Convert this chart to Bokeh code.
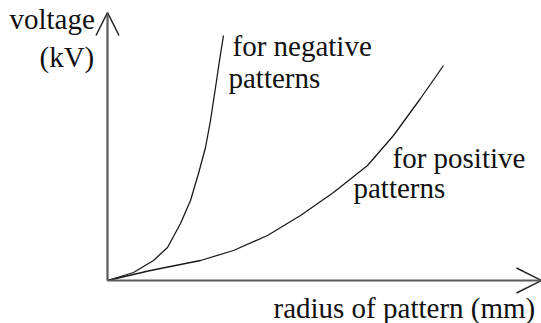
from bokeh.plotting import figure
from bokeh.models import Range1d, Arrow, OpenHead, ColumnDataSource
from bokeh.core.properties import value
from bokeh.embed import file_html
from bokeh.resources import INLINE

# Schematic breakdown voltage vs. pattern radius (arbitrary units)
neg_radius = [0, 26, 46, 60, 73, 83, 91, 98, 103, 108, 112, 116]
neg_voltage = [0, 8, 20, 33, 57, 80, 107, 133, 160, 193, 220, 245]

pos_radius = [0, 43, 93, 126, 160, 193, 226, 260, 286, 313, 336]
pos_voltage = [0, 10, 20, 30, 45, 65, 88, 115, 145, 182, 215]

x_axis_label = "radius of pattern (mm)"
y_axis_label = ["voltage", "(kV)"]
neg_label = ["for negative", "patterns"]
pos_label = ["for positive", "patterns"]

p = figure(width=541, height=323, output_backend="svg", toolbar_location=None,
           x_range=Range1d(-107, 434), y_range=Range1d(-43, 280),
           min_border=0, min_border_left=0, min_border_right=0,
           min_border_top=0, min_border_bottom=0)
p.axis.visible = False
p.grid.visible = False
p.outline_line_color = None
p.background_fill_color = "white"
p.border_fill_color = "white"

# axes drawn as open-headed arrows from the origin
p.add_layout(Arrow(x_start=0, y_start=0, x_end=434, y_end=0,
                   line_width=2.2, line_color="#5a5a5a",
                   end=OpenHead(size=25, line_width=1.5, line_color="#222222")))
p.add_layout(Arrow(x_start=0, y_start=0, x_end=0, y_end=268,
                   line_width=2.2, line_color="#5a5a5a",
                   end=OpenHead(size=23, line_width=1.5, line_color="#222222")))

p.line(neg_radius, neg_voltage, line_width=1.3, line_color="#1a1a1a")
p.line(pos_radius, pos_voltage, line_width=1.3, line_color="#1a1a1a")

# annotation texts (axis titles and curve labels)
texts = y_axis_label + neg_label + pos_label + [x_axis_label]
src = ColumnDataSource(dict(
    x=[-98, -68, 125, 121, 285, 246, 166],
    y=[262, 224, 235, 203, 123, 93, -27],
    text=texts,
))
p.text(x="x", y="y", text="text", source=src,
       text_font=value("Liberation Serif"), text_font_size="29px",
       text_color="#111111", text_baseline="alphabetic", text_align="left")

open("out.html", "w").write(file_html(p, INLINE))
